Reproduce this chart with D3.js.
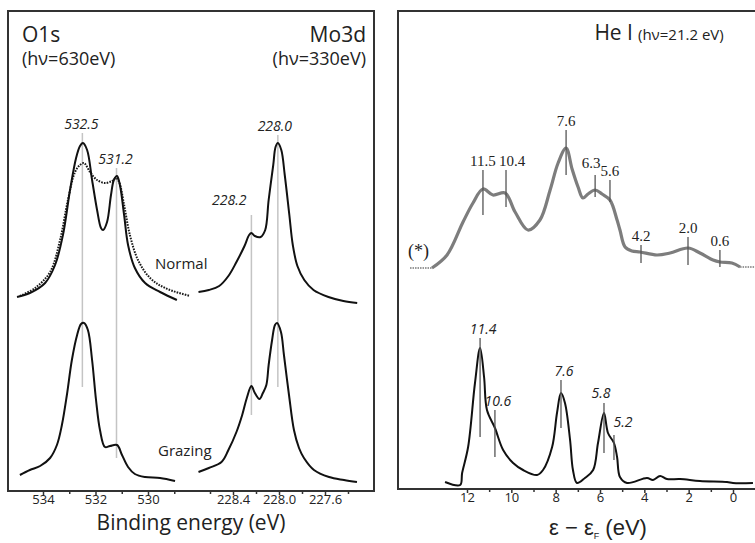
<!DOCTYPE html>
<html>
<head>
<meta charset="utf-8">
<script src="https://cdn.jsdelivr.net/npm/d3@7"></script>
<style>
  body { margin: 0; background: #fff; }
  svg text { fill: #222; }
</style>
</head>
<body>
<div id="chart"></div>
<script>
// ---- data (binding energy eV, intensity arb. units) ----
var o1sNormal = [[534.99,194],[534.5,198],[533.92,208],[533.54,226],[533.24,256],[532.97,301],[532.74,333],[532.59,345],[532.48,348],[532.32,341],[532.13,311],[531.94,281],[531.79,263],[531.71,261],[531.56,269],[531.41,296],[531.3,311],[531.18,315],[531.07,306],[530.91,276],[530.76,246],[530.5,223],[530.11,208],[529.54,199],[528.9,191]];
var o1sNormalBroad = [[534.88,195],[534.3,203],[533.73,219],[533.35,251],[533.05,291],[532.78,319],[532.59,326],[532.44,328],[532.21,319],[531.94,311],[531.64,308],[531.37,310],[531.22,313],[531.1,309],[530.91,286],[530.69,256],[530.38,231],[529.92,213],[529.35,203],[528.4,195]];
var o1sGrazing = [[534.88,16],[534.5,21],[534.11,25],[533.73,33],[533.47,46],[533.28,66],[533.09,96],[532.9,131],[532.7,156],[532.55,167],[532.44,168],[532.29,161],[532.13,131],[531.98,91],[531.83,61],[531.64,44],[531.45,45],[531.18,46],[530.99,36],[530.76,24],[530.5,17],[530.11,14],[529.54,13],[528.97,10]];
var mo3dNormal = [[228.7,199],[228.61,201],[228.52,205],[228.44,215],[228.37,229],[228.3,245],[228.26,256],[228.24,258],[228.21,255],[228.16,254],[228.12,261],[228.09,291],[228.05,326],[228.03,344],[228.01,348],[227.98,341],[227.95,316],[227.91,276],[227.88,246],[227.84,225],[227.78,211],[227.7,201],[227.57,194],[227.44,190],[227.32,188]];
var mo3dGrazing = [[228.7,19],[228.61,23],[228.5,29],[228.44,41],[228.37,59],[228.32,76],[228.28,93],[228.24,105],[228.21,98],[228.17,92],[228.14,98],[228.11,106],[228.09,126],[228.06,151],[228.035,166],[228.017,168],[227.983,159],[227.957,136],[227.913,96],[227.87,61],[227.826,43],[227.783,33],[227.696,21],[227.565,14],[227.435,11],[227.322,9]];

var o1sPeakPos = [532.5, 531.2];
var o1sPeakLabels = ["532.5", "531.2"];
var o1sPeakSpan = [[358,104],[323,33]];
var mo3dPeakPos = [228.24, 228.01];
var mo3dPeakLabels = ["228.2", "228.0"];
var mo3dPeakSpan = [[276,76],[356,104]];

var o1sTicks = [534, 532, 530];
var o1sMinorTicks = [533, 531, 529];
var mo3dTicks = [228.4, 228.0, 227.6];
var mo3dMinorTicks = [228.6, 228.2, 227.8, 227.4];

// He I valence band (epsilon - epsilon_F, eV)
var heTop = [[13.58,221],[12.9,234],[12.18,267],[11.73,286],[11.28,300],[10.83,294],[10.28,296],[9.83,277],[9.25,259],[8.71,269],[8.25,299],[7.89,326],[7.53,341],[7.26,320],[6.99,302],[6.77,291],[6.54,295],[6.22,299],[5.91,295],[5.55,289],[5.23,269],[5.1,259],[4.87,242],[4.56,238],[4.19,237],[3.43,234],[2.84,236],[2.03,241],[1.49,236],[0.9,229],[0.59,227],[0.05,226],[-0.32,222]];
var heTopBaseLeft = [[14.57,221],[13.58,221]];
var heTopBaseRight = [[-0.32,222],[-1.0,222]];
var heBottom = [[12.99,7],[12.31,4],[12.22,16],[11.95,42],[11.64,106],[11.41,141],[11.23,112],[11.1,79],[10.74,61],[10.37,39],[9.92,26],[9.47,19],[8.84,14],[8.57,19],[8.16,42],[7.94,76],[7.76,96],[7.58,86],[7.35,49],[7.22,19],[7.04,6],[6.68,11],[6.31,19],[6.09,46],[5.82,76],[5.64,56],[5.37,46],[5.23,32],[5.1,12],[4.78,6],[3.88,11],[3.61,9],[3.29,13],[2.98,10],[2.39,10],[1.49,8],[0.27,7],[0.0,6],[-0.9,6]];

var heTopPeakPos = [11.28, 10.24, 7.53, 6.22, 5.55, 4.15, 2.03, 0.59];
var heTopPeakLabels = ["11.5", "10.4", "7.6", "6.3", "5.6", "4.2", "2.0", "0.6"];
var heTopPeakSpan = [[319,274],[319,282],[359,314],[314,292],[309,287],[244,226],[252,224],[239,222]];
var heBotPeakPos = [11.41, 10.74, 7.76, 5.82, 5.37];
var heBotPeakLabels = ["11.4", "10.6", "7.6", "5.8", "5.2"];
var heBotPeakSpan = [[151,52],[79,32],[109,61],[86,36],[54,29]];

var heTicks = [12, 10, 8, 6, 4, 2, 0];
var heMinorTicks = [11, 9, 7, 5, 3, 1];

// ---- layout ----
var width = 755, height = 543;
var sans = "'Open Sans', 'Noto Sans', sans-serif";
var svg = d3.select("#chart").append("svg")
  .attr("width", width).attr("height", height)
  .style("font-family", sans);

var left = {x0: 8, x1: 374, y0: 11, y1: 491};
var right = {x0: 398, x1: 755, y0: 11, y1: 489};

var xO = d3.scaleLinear().domain([534, 530]).range([43, 148]);
var xMo = d3.scaleLinear().domain([228.4, 227.6]).range([233, 325]);
var yL = d3.scaleLinear().domain([0, 480]).range([left.y1, left.y0]);
var xR = d3.scaleLinear().domain([12, 0]).range([467, 733]);
var yR = d3.scaleLinear().domain([0, 478]).range([right.y1, right.y0]);

function lineGen(x, y) {
  return d3.line().x(d => x(d[0])).y(d => y(d[1])).curve(d3.curveCatmullRom.alpha(0.5));
}

// ---- left panel frame ----
svg.append("rect")
  .attr("x", left.x0).attr("y", left.y0)
  .attr("width", left.x1 - left.x0).attr("height", left.y1 - left.y0)
  .attr("fill", "none").attr("stroke", "#333").attr("stroke-width", 2);

// gray guide lines
function guides(x, pos, span) {
  svg.append("g").selectAll("line").data(pos).enter().append("line")
    .attr("x1", d => x(d)).attr("x2", d => x(d))
    .attr("y1", (d, i) => yL(span[i][0])).attr("y2", (d, i) => yL(span[i][1]))
    .attr("stroke", "#c4c4c4").attr("stroke-width", 1.5);
}
guides(xO, o1sPeakPos, o1sPeakSpan);
guides(xMo, mo3dPeakPos, mo3dPeakSpan);

// spectra
var lO = lineGen(xO, yL), lMo = lineGen(xMo, yL);
svg.append("path").attr("d", lO(o1sNormalBroad)).attr("fill", "none")
  .attr("stroke", "#1a1a1a").attr("stroke-width", 2).attr("stroke-dasharray", "1.6,1.2");
[[lO, o1sNormal], [lO, o1sGrazing], [lMo, mo3dNormal], [lMo, mo3dGrazing]].forEach(p => {
  svg.append("path").attr("d", p[0](p[1])).attr("fill", "none")
    .attr("stroke", "#111").attr("stroke-width", 2).attr("stroke-linejoin", "round");
});

// peak labels
svg.append("g").selectAll("text").data(o1sPeakPos).enter().append("text")
  .attr("x", d => xO(d) - 1)
  .attr("y", (d, i) => yL(o1sPeakSpan[i][0]) - 4)
  .attr("text-anchor", "middle").style("font-style", "italic").style("font-size", "14px")
  .text((d, i) => o1sPeakLabels[i]);
svg.append("g").selectAll("text").data(mo3dPeakPos).enter().append("text")
  .attr("x", (d, i) => i === 0 ? xMo(d) - 5 : xMo(d) - 3)
  .attr("y", (d, i) => yL(mo3dPeakSpan[i][0]) - (i === 0 ? 10 : 4))
  .attr("text-anchor", (d, i) => i === 0 ? "end" : "middle")
  .style("font-style", "italic").style("font-size", "14px")
  .text((d, i) => mo3dPeakLabels[i]);

// panel titles
svg.append("text").attr("x", 22).attr("y", 42).style("font-size", "21px").text("O1s");
svg.append("text").attr("x", 22).attr("y", 65).style("font-size", "18px").text("(h\u03bd=630eV)");
svg.append("text").attr("x", 366).attr("y", 42).attr("text-anchor", "end").style("font-size", "21px").text("Mo3d");
svg.append("text").attr("x", 366).attr("y", 65).attr("text-anchor", "end").style("font-size", "18px").text("(h\u03bd=330eV)");
svg.append("text").attr("x", 155).attr("y", 269).style("font-size", "15px").text("Normal");
svg.append("text").attr("x", 158).attr("y", 456).style("font-size", "15px").text("Grazing");

// bottom axes
function bottomAxis(x, major, minor, fmt, y, size) {
  var g = svg.append("g").attr("transform", "translate(0," + y + ")");
  g.call(d3.axisBottom(x).tickValues(major).tickSize(4).tickPadding(0).tickFormat(fmt));
  g.attr("font-size", size).attr("font-family", sans);
  g.selectAll("text").style("font-size", size).attr("fill", "#222");
  g.select(".domain").remove();
  g.selectAll(".tick line").attr("stroke", "#333").attr("stroke-width", 1.5);
  var gm = svg.append("g").attr("transform", "translate(0," + y + ")");
  gm.call(d3.axisBottom(x).tickValues(minor).tickSize(3).tickFormat(""));
  gm.select(".domain").remove();
  gm.selectAll(".tick line").attr("stroke", "#333").attr("stroke-width", 1.5);
}
bottomAxis(xO, o1sTicks, o1sMinorTicks, d3.format("d"), left.y1, "13px");
bottomAxis(xMo, mo3dTicks, mo3dMinorTicks, d3.format(".1f"), left.y1, "13px");

svg.append("text").attr("x", 191).attr("y", 530).attr("text-anchor", "middle")
  .style("font-size", "21px").text("Binding energy (eV)");

// ---- right panel ----
svg.append("path")
  .attr("d", "M" + right.x1 + "," + right.y0 + "H" + right.x0 + "V" + right.y1 + "H" + right.x1)
  .attr("fill", "none").attr("stroke", "#333").attr("stroke-width", 2);

var lR = lineGen(xR, yR);
[heTopBaseLeft, heTopBaseRight].forEach(b => {
  svg.append("path").attr("d", lR(b)).attr("fill", "none")
    .attr("stroke", "#777").attr("stroke-width", 1.5).attr("stroke-dasharray", "1.5,1");
});
svg.append("path").attr("d", lR(heTop)).attr("fill", "none")
  .attr("stroke", "#7d7d7d").attr("stroke-width", 3.2).attr("stroke-linejoin", "round");
svg.append("path").attr("d", lR(heBottom)).attr("fill", "none")
  .attr("stroke", "#111").attr("stroke-width", 2).attr("stroke-linejoin", "round");

function markers(pos, span) {
  svg.append("g").selectAll("line").data(pos).enter().append("line")
    .attr("x1", d => xR(d)).attr("x2", d => xR(d))
    .attr("y1", (d, i) => yR(span[i][0])).attr("y2", (d, i) => yR(span[i][1]))
    .attr("stroke", "#555").attr("stroke-width", 1.3);
}
markers(heTopPeakPos, heTopPeakSpan);
markers(heBotPeakPos, heBotPeakSpan);

svg.append("g").selectAll("text").data(heTopPeakPos).enter().append("text")
  .attr("x", (d, i) => xR(d) + (i === 1 ? 6 : i === 3 ? -4 : 0))
  .attr("y", (d, i) => yR(heTopPeakSpan[i][0]) - (i === 3 ? 7 : 4))
  .attr("text-anchor", "middle")
  .style("font-family", "'Liberation Serif', 'DejaVu Serif', serif").style("font-size", "15px")
  .text((d, i) => heTopPeakLabels[i]);
svg.append("g").selectAll("text").data(heBotPeakPos).enter().append("text")
  .attr("x", (d, i) => xR(d) + (i === 3 ? -3 : i === 4 ? 9 : 3))
  .attr("y", (d, i) => yR(heBotPeakSpan[i][0]) - (i === 4 ? 8 : i === 3 ? 5 : 4))
  .attr("text-anchor", "middle")
  .style("font-style", "italic").style("font-size", "14px")
  .text((d, i) => heBotPeakLabels[i]);

svg.append("text").attr("x", 408).attr("y", 257)
  .style("font-family", "'Liberation Serif', serif").style("font-size", "18px").text("(*)");

svg.append("text").attr("x", 633).attr("y", 40).attr("text-anchor", "end")
  .style("font-size", "21px").text("He I");
svg.append("text").attr("x", 638).attr("y", 40)
  .style("font-size", "15px").text("(h\u03bd=21.2 eV)");

bottomAxis(xR, heTicks, heMinorTicks, d3.format("d"), right.y1, "13px");

var xl = svg.append("text").attr("x", 598).attr("y", 535).attr("text-anchor", "middle")
  .style("font-family", "'Liberation Sans', Arial, sans-serif").style("font-size", "22px");
xl.append("tspan").text("\u03b5 \u2212 \u03b5");
xl.append("tspan").attr("dy", 4).style("font-size", "9px").text("F");
xl.append("tspan").attr("dy", -4).text(" (eV)");
</script>
</body>
</html>
